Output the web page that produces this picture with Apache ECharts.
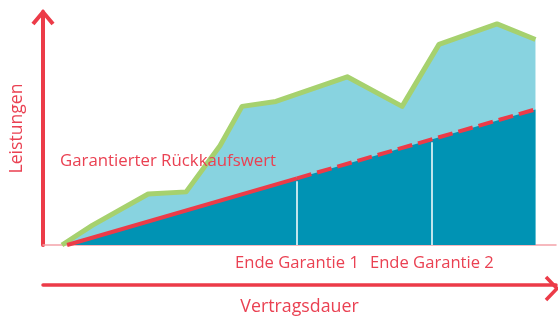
<!DOCTYPE html>
<html>
<head>
<meta charset="utf-8">
<script src="https://cdn.jsdelivr.net/npm/echarts@6/dist/echarts.min.js"></script>
<style>
  html, body { margin: 0; padding: 0; background: #fff; }
  #chart { width: 558px; height: 321px; }
</style>
</head>
<body>
<div id="chart"></div>
<script>
// Leistungen (total benefit) over the contract term
const leistungX = [3.7, 9.6, 20.5, 27.9, 34.5, 38.8, 45.4, 59.3, 70.0, 77.2, 88.5, 96.0];
const leistungY = [0, 8.4, 21.9, 22.8, 42.6, 59.5, 61.6, 72.2, 59.5, 86.1, 94.9, 88.2];

// Guaranteed surrender value: solid up to the end of guarantee 1, dashed afterwards
const rueckkaufX = [4.7, 49.5, 96.0];
const rueckkaufY = [0, 28.6, 58.2];

// Ends of the guarantee periods
const garantieX = [49.5, 75.8];
const garantieLabels = ['Ende Garantie 1', 'Ende Garantie 2'];

const RED = '#ec3b48';
const TEXT_RED = '#ea4152';
const LIGHT = '#88d3e0';
const DARK = '#0093b4';
const GREEN = '#a6d16e';
const FONT = 'Open Sans';

const zip = (xs, ys) => xs.map((x, i) => [x, ys[i]]);

// value of the surrender line at x (linear between its points)
function rueckkaufAt(x) {
  for (let i = 0; i < rueckkaufX.length - 1; i++) {
    const x0 = rueckkaufX[i], x1 = rueckkaufX[i + 1];
    if (x >= x0 && x <= x1) {
      const t = (x - x0) / (x1 - x0);
      return rueckkaufY[i] + t * (rueckkaufY[i + 1] - rueckkaufY[i]);
    }
  }
  return 0;
}

const rueckkauf = zip(rueckkaufX, rueckkaufY);

const chart = echarts.init(document.getElementById('chart'), null, { renderer: 'canvas' });

chart.setOption({
  animation: false,
  textStyle: { fontFamily: FONT },
  title: {
    text: 'Garantierter Rückkaufswert',
    left: 60, top: 153, padding: 0,
    textStyle: { color: TEXT_RED, fontSize: 16.8, fontWeight: 'normal', fontFamily: FONT }
  },
  grid: { left: 43, right: 2, top: 12, bottom: 72 },
  xAxis: [
    {
      type: 'value', min: 0, max: 100,
      axisLine: { show: true, lineStyle: { color: '#f4a3a9', width: 1.5 } },
      axisTick: { show: false }, axisLabel: { show: false }, splitLine: { show: false }
    },
    {
      type: 'value', min: 0, max: 100, position: 'bottom', offset: 40,
      axisLine: { show: true, lineStyle: { color: RED, width: 3.5 } },
      axisTick: { show: false }, axisLabel: { show: false }, splitLine: { show: false },
      name: 'Vertragsdauer', nameLocation: 'middle', nameGap: 13,
      nameTextStyle: { color: TEXT_RED, fontSize: 17.8, fontFamily: FONT, verticalAlign: 'top' }
    }
  ],
  yAxis: {
    type: 'value', min: 0, max: 100,
    axisLine: { show: true, lineStyle: { color: RED, width: 4 } },
    axisTick: { show: false }, axisLabel: { show: false }, splitLine: { show: false },
    name: 'Leistungen', nameLocation: 'middle', nameGap: 17, nameRotate: 90,
    nameTextStyle: { color: TEXT_RED, fontSize: 17.6, fontFamily: FONT }
  },
  graphic: [
    {
      type: 'polyline', z: 100,
      shape: { points: [[33, 24], [43, 12], [53, 24]] },
      style: { stroke: RED, lineWidth: 4, fill: null }
    },
    {
      type: 'polyline', z: 100,
      shape: { points: [[546, 277], [557, 288.5], [546, 300]] },
      style: { stroke: RED, lineWidth: 3.5, fill: null }
    }
  ],
  series: [
    {
      name: 'Leistungen', type: 'line', xAxisIndex: 0,
      data: zip(leistungX, leistungY),
      symbol: 'none',
      lineStyle: { color: GREEN, width: 5, join: 'round' },
      areaStyle: { color: LIGHT, opacity: 1 },
      z: 2
    },
    {
      name: 'Rückkaufswert garantiert', type: 'line', xAxisIndex: 0,
      data: rueckkauf.slice(0, 2),
      symbol: 'none',
      lineStyle: { color: RED, width: 4 },
      areaStyle: { color: DARK, opacity: 1 },
      z: 3
    },
    {
      name: 'Rückkaufswert', type: 'line', xAxisIndex: 0,
      data: rueckkauf.slice(1),
      symbol: 'none',
      lineStyle: { color: RED, width: 4, type: [15, 6] },
      areaStyle: { color: DARK, opacity: 1 },
      z: 3,
      markLine: {
        silent: true,
        symbol: ['none', 'none'],
        lineStyle: { color: '#ffffff', width: 1.5, type: 'solid' },
        label: {
          show: true, position: 'start', distance: 10,
          color: TEXT_RED, fontSize: 16.6, fontFamily: FONT,
          formatter: p => p.name
        },
        data: garantieX.map((x, i) => [
          { name: garantieLabels[i], coord: [x, 0] },
          { coord: [x, rueckkaufAt(x) - 1.2] }
        ])
      }
    }
  ]
});
</script>
</body>
</html>
